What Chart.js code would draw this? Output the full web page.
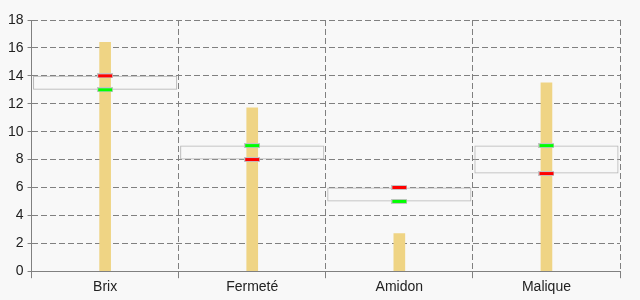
<!DOCTYPE html>
<html lang="fr">
<head>
    <meta charset="UTF-8">
    <title>Qualité</title>
    <script src="https://cdn.jsdelivr.net/npm/chart.js"></script>
    <style>
        body {
            margin: 0;
            padding: 0;
            background-color: #f8f8f8;
        }
        .chart-container {
            width: 640px;
            height: 300px;
        }
    </style>
</head>
<body>
    <div class="chart-container">
        <canvas id="chart"></canvas>
    </div>

    <script>
        // Données
        const categories = ['Brix', 'Fermeté', 'Amidon', 'Malique'];
        const measuredValues = [16.4, 11.7, 2.7, 13.5];
        const redValues = [14, 8, 6, 7];
        const greenValues = [13, 9, 5, 9];
        const yTicks = [0, 2, 4, 6, 8, 10, 12, 14, 16, 18];

        // Zone entre les deux repères
        const rangeBoxes = redValues.map((r, i) => [Math.min(r, greenValues[i]), Math.max(r, greenValues[i])]);

        // Repère rectangulaire (rouge / vert)
        function makeMarker(fill) {
            const c = document.createElement('canvas');
            c.width = 16;
            c.height = 5;
            const g = c.getContext('2d');
            g.fillStyle = '#c4c4c4';
            g.fillRect(0, 0, 16, 5);
            g.fillStyle = fill;
            g.fillRect(1, 1, 14, 3);
            return c;
        }

        const gridColor = '#808080';
        const font = { family: "'Liberation Sans', Arial, sans-serif", size: 14 };

        const ctx = document.getElementById('chart').getContext('2d');
        const chart = new Chart(ctx, {
            type: 'bar',
            data: {
                labels: categories,
                datasets: [
                    {
                        type: 'line',
                        data: redValues,
                        showLine: false,
                        pointStyle: makeMarker('#ff0000'),
                        order: 0
                    },
                    {
                        type: 'line',
                        data: greenValues,
                        showLine: false,
                        pointStyle: makeMarker('#00ff00'),
                        order: 0
                    },
                    {
                        data: measuredValues,
                        backgroundColor: '#efd484',
                        barThickness: 11,
                        grouped: false,
                        order: 1
                    },
                    {
                        data: rangeBoxes,
                        backgroundColor: 'rgba(0,0,0,0)',
                        borderColor: '#b4b4b4',
                        borderWidth: 1,
                        borderSkipped: false,
                        barPercentage: 1,
                        categoryPercentage: 0.98,
                        grouped: false,
                        order: 2
                    }
                ]
            },
            options: {
                responsive: true,
                maintainAspectRatio: false,
                animation: false,
                layout: {
                    padding: { top: 20, right: 20, left: 4, bottom: 3 }
                },
                plugins: {
                    legend: { display: false },
                    tooltip: { enabled: false }
                },
                scales: {
                    x: {
                        offset: true,
                        grid: {
                            offset: true,
                            color: gridColor,
                            tickLength: 7,
                            tickColor: gridColor
                        },
                        border: { color: gridColor, width: 1, dash: [6, 3] },
                        ticks: { color: '#222', font: font, padding: 1 }
                    },
                    y: {
                        min: 0,
                        max: 18,
                        afterBuildTicks: (axis) => {
                            axis.ticks = yTicks.map(v => ({ value: v }));
                        },
                        grid: {
                            color: gridColor,
                            tickLength: 4,
                            tickColor: gridColor
                        },
                        border: { color: gridColor, width: 1, dash: [6, 3] },
                        ticks: { color: '#222', font: font, padding: 4 }
                    }
                }
            }
        });
    </script>
</body>
</html>
